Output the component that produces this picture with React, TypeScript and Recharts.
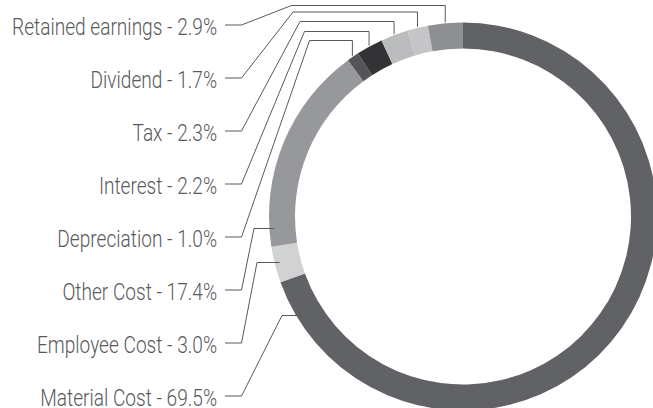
import { PieChart, Pie, Cell } from 'recharts';

const categories = [
  'Material Cost',
  'Employee Cost',
  'Other Cost',
  'Depreciation',
  'Interest',
  'Tax',
  'Dividend',
  'Retained earnings',
];

const shares = [69.5, 3.0, 17.4, 1.0, 2.2, 2.3, 1.7, 2.9];

const colors = ['#616266', '#d1d2d4', '#97989b', '#545558', '#333234', '#bbbcbe', '#c4c5c7', '#8e8f92'];

const data = categories.map((name, i) => ({ name, value: shares[i] }));

// leader elbows (where the diagonal from the label column meets the horizontal run)
const elbows = [
  { x: 282, y: 315.5 },
  { x: 257, y: 262.5 },
  { x: 254, y: 228.5 },
  { x: 309.5, y: 40.5 },
  { x: 304.5, y: 31.5 },
  { x: 300, y: 21.5 },
  { x: 293, y: 12 },
  { x: 291.5, y: 5.5 },
];

const RAD = Math.PI / 180;
const TEXT_RIGHT = 217;
const DASH_START = 225;
const DASH_END = 241.5;
const SQUEEZE = 0.83;

interface LabelProps {
  cx: number;
  cy: number;
  midAngle: number;
  outerRadius: number;
  index: number;
  name: string;
  value: number;
}

function LeaderLabel({ cx, cy, midAngle, outerRadius, index, name, value }: LabelProps) {
  const n = categories.length;
  const textY = 25 + (n - 1 - index) * 53;
  const elbow = elbows[index];
  let d = `M${DASH_START},${textY}L${DASH_END},${textY}L${elbow.x},${elbow.y}`;
  if (elbow.y < cy - outerRadius + 60) {
    // top labels: run right, then drop onto the slice at its mid angle
    const r = outerRadius + 1;
    const ex = cx + r * Math.cos(-midAngle * RAD);
    const ey = cy + r * Math.sin(-midAngle * RAD);
    d += `L${ex},${elbow.y}L${ex},${ey}`;
  } else {
    // side labels: short horizontal stub into the ring
    const r = outerRadius - 5;
    const dy = elbow.y - cy;
    const ex = cx - Math.sqrt(r * r - dy * dy);
    d += `L${ex},${elbow.y}`;
  }
  return (
    <g>
      <path d={d} fill="none" stroke="#58595b" strokeWidth={1} />
      <text
        transform={`translate(${TEXT_RIGHT},${textY + 2}) scale(${SQUEEZE},1)`}
        x={0}
        y={0}
        textAnchor="end"
        dominantBaseline="central"
        fill="#58595b"
        fontSize={23}
        fontWeight={300}
        fontFamily="Roboto, 'Noto Sans', sans-serif"
      >
        {`${name} - ${value.toFixed(1)}%`}
      </text>
    </g>
  );
}

export default function App() {
  return (
    <div style={{ position: 'absolute', left: 0, top: 0, width: 653, height: 408, background: '#fff' }}>
      <PieChart width={653} height={408}>
        <Pie
          data={data}
          dataKey="value"
          nameKey="name"
          cx={458}
          cy={211.5}
          innerRadius={168}
          outerRadius={194}
          startAngle={90}
          endAngle={-270}
          stroke="none"
          label={(props: any) => <LeaderLabel {...props} />}
          labelLine={false}
          isAnimationActive={false}
        >
          {data.map((entry, i) => (
            <Cell key={entry.name} fill={colors[i]} />
          ))}
        </Pie>
      </PieChart>
    </div>
  );
}
